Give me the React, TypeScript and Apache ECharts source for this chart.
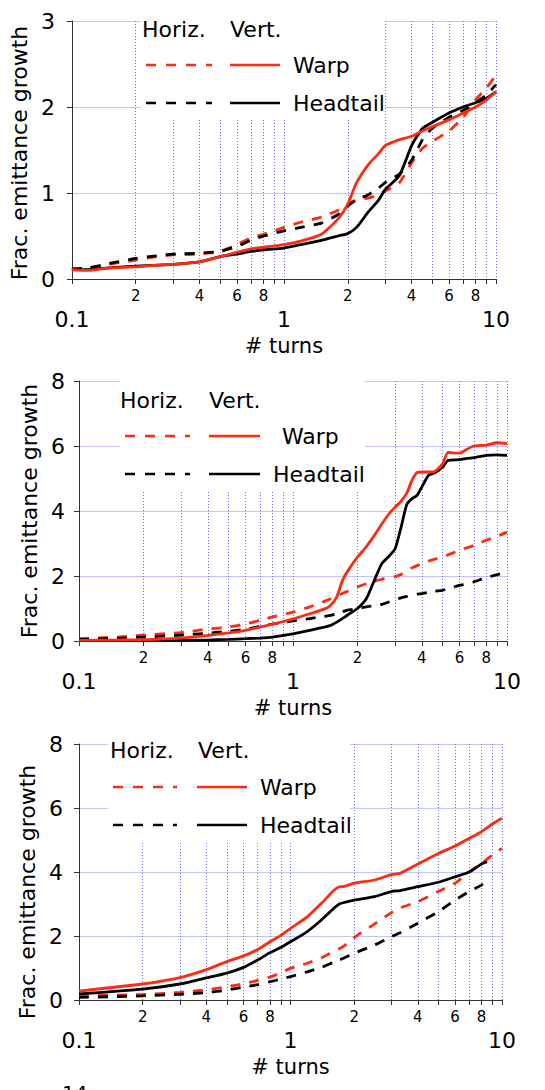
import React, { useEffect, useRef } from "react";
import * as echarts from "echarts";

const FONT = "DejaVu Sans";
const RED = "#ff2a0f";
const BLACK = "#000000";

// x-axis ticks / labels (log axis, # turns)
const xTickValues = [0.1, 0.2, 0.3, 0.4, 0.5, 0.6, 0.7, 0.8, 0.9, 1, 2, 3, 4, 5, 6, 7, 8, 9, 10];
const xLabelValues = [0.1, 0.2, 0.4, 0.6, 0.8, 1, 2, 4, 6, 8, 10];
const xLabelTexts = ["0.1", "2", "4", "6", "8", "1", "2", "4", "6", "8", "10"];
const xLabelMajor = [true, false, false, false, false, true, false, false, false, false, true];

// Panel 1
const p1X = [0.1, 0.12, 0.15, 0.2, 0.25, 0.3, 0.4, 0.5, 0.6, 0.7, 0.8, 1, 1.2, 1.5, 1.8, 2, 2.2, 2.5, 2.8, 3, 3.5, 4, 4.5, 5, 6, 7, 8, 9, 10];
const p1WarpV = [0.11, 0.1, 0.13, 0.14, 0.16, 0.17, 0.2, 0.26, 0.31, 0.35, 0.37, 0.4, 0.44, 0.52, 0.7, 0.87, 1.12, 1.33, 1.46, 1.55, 1.62, 1.66, 1.72, 1.77, 1.85, 1.93, 2.0, 2.08, 2.18];
const p1HeadV = [0.11, 0.11, 0.13, 0.15, 0.16, 0.17, 0.2, 0.26, 0.29, 0.32, 0.34, 0.36, 0.4, 0.45, 0.5, 0.53, 0.6, 0.78, 0.92, 1.04, 1.2, 1.55, 1.75, 1.82, 1.93, 2.0, 2.05, 2.1, 2.18];
const p1WarpH = [0.11, 0.12, 0.17, 0.22, 0.26, 0.28, 0.29, 0.32, 0.4, 0.48, 0.52, 0.6, 0.66, 0.72, 0.8, 0.87, 0.92, 0.94, 0.98, 1.02, 1.12, 1.35, 1.52, 1.6, 1.72, 1.88, 2.08, 2.22, 2.37];
const p1HeadH = [0.12, 0.13, 0.18, 0.24, 0.27, 0.29, 0.3, 0.32, 0.38, 0.45, 0.5, 0.56, 0.6, 0.65, 0.75, 0.85, 0.92, 0.98, 1.06, 1.12, 1.22, 1.38, 1.62, 1.75, 1.88, 1.96, 2.05, 2.14, 2.26];

// Panel 2
const p2X = [0.1, 0.15, 0.2, 0.3, 0.4, 0.5, 0.6, 0.7, 0.8, 1, 1.2, 1.4, 1.5, 1.6, 1.7, 1.8, 2, 2.2, 2.4, 2.6, 2.8, 3, 3.2, 3.4, 3.6, 3.8, 4, 4.3, 4.6, 5, 5.3, 6, 6.5, 7, 8, 9, 10];
const p2WarpV = [0.02, 0.03, 0.04, 0.09, 0.17, 0.25, 0.33, 0.43, 0.51, 0.68, 0.84, 0.98, 1.1, 1.35, 1.85, 2.15, 2.58, 2.9, 3.25, 3.6, 3.9, 4.12, 4.3, 4.55, 4.95, 5.18, 5.2, 5.2, 5.22, 5.45, 5.8, 5.78, 5.9, 6.0, 6.03, 6.1, 6.07];
const p2HeadV = [0.01, 0.01, 0.01, 0.02, 0.03, 0.05, 0.07, 0.09, 0.12, 0.22, 0.33, 0.43, 0.48, 0.58, 0.69, 0.8, 1.0, 1.3, 1.87, 2.38, 2.6, 2.84, 3.5, 4.2, 4.38, 4.48, 4.74, 5.1, 5.18, 5.35, 5.56, 5.58, 5.62, 5.64, 5.71, 5.73, 5.71];
const p2WarpH = [0.07, 0.12, 0.18, 0.26, 0.37, 0.43, 0.53, 0.63, 0.74, 0.89, 1.05, 1.22, 1.3, 1.38, 1.46, 1.53, 1.66, 1.76, 1.84, 1.9, 1.94, 1.98, 2.05, 2.15, 2.25, 2.32, 2.38, 2.46, 2.52, 2.58, 2.65, 2.79, 2.87, 2.94, 3.1, 3.22, 3.35];
const p2HeadH = [0.05, 0.08, 0.12, 0.18, 0.24, 0.3, 0.36, 0.45, 0.52, 0.62, 0.69, 0.76, 0.79, 0.84, 0.9, 0.95, 1.0, 1.05, 1.09, 1.13, 1.2, 1.28, 1.33, 1.37, 1.41, 1.44, 1.46, 1.5, 1.53, 1.56, 1.61, 1.71, 1.76, 1.82, 1.95, 2.04, 2.12];

// Panel 3
const p3X = [0.1, 0.2, 0.3, 0.4, 0.5, 0.6, 0.7, 0.8, 0.9, 1, 1.2, 1.4, 1.6, 1.7, 1.8, 2, 2.5, 3, 3.3, 4, 5, 6, 7, 8, 8.5, 9, 10];
const p3WarpV = [0.28, 0.5, 0.7, 0.95, 1.2, 1.38, 1.58, 1.82, 2.02, 2.24, 2.6, 3.02, 3.42, 3.54, 3.55, 3.65, 3.75, 3.92, 3.96, 4.25, 4.58, 4.81, 5.05, 5.26, 5.38, 5.5, 5.68];
const p3HeadV = [0.19, 0.34, 0.5, 0.69, 0.84, 1.02, 1.25, 1.48, 1.64, 1.82, 2.14, 2.5, 2.86, 3.0, 3.05, 3.12, 3.23, 3.39, 3.42, 3.54, 3.68, 3.85, 4.0, 4.25, 4.32, null, null];
const p3WarpH = [0.13, 0.17, 0.24, 0.32, 0.41, 0.51, 0.61, 0.72, 0.85, 0.99, 1.15, 1.32, 1.52, 1.6, 1.7, 1.95, 2.38, 2.73, 2.88, 3.07, 3.39, 3.65, 4.0, 4.27, 4.4, 4.53, 4.74];
const p3HeadH = [0.08, 0.13, 0.18, 0.23, 0.31, 0.4, 0.48, 0.57, 0.65, 0.73, 0.88, 1.02, 1.18, 1.25, 1.32, 1.46, 1.72, 1.98, 2.1, 2.4, 2.76, 3.12, 3.39, 3.59, 3.7, null, null];

const yMaxes = [3, 8, 8];
const yIntervals = [1, 2, 2];

const panels = [
  { x: p1X, warpV: p1WarpV, headV: p1HeadV, warpH: p1WarpH, headH: p1HeadH },
  { x: p2X, warpV: p2WarpV, headV: p2HeadV, warpH: p2WarpH, headH: p2HeadH },
  { x: p3X, warpV: p3WarpV, headV: p3HeadV, warpH: p3WarpH, headH: p3HeadH },
];

// layout (pixels)
const grids = [
  { left: 70, top: 21, width: 426, height: 258 },
  { left: 79, top: 381, width: 428, height: 260 },
  { left: 79, top: 744, width: 423, height: 256 },
];
const yNameGaps = [37, 37, 41];
const yNamePadding = [[0, 6, 0, 0], [0, 0, 0, 0], [0, 40, 0, 0]];
const yLabelMargins = [17, 14, 16];

const legends = [
  { box: [141, 20, 244, 100], horizX: 142, vertX: 230, headY: 29, dash: [146, 212], solid: [230, 280], warpX: 293, warpY: 65, headtailX: 293, headtailY: 103 },
  { box: [120, 380, 245, 111], horizX: 120, vertX: 209, headY: 400, dash: [125, 190], solid: [209, 260], warpX: 282, warpY: 436, headtailX: 273, headtailY: 474 },
  { box: [108, 743, 242, 99], horizX: 110, vertX: 198, headY: 750, dash: [113, 177], solid: [197, 247], warpX: 260, warpY: 787, headtailX: 260, headtailY: 825 },
];

function xLabelFormatter(value: number) {
  let best = 0;
  let bestD = Infinity;
  xLabelValues.forEach((v, k) => {
    const d = Math.abs(Math.log10(v) - Math.log10(value));
    if (d < bestD) {
      bestD = d;
      best = k;
    }
  });
  const t = xLabelTexts[best];
  return xLabelMajor[best] ? `{big|${t}}` : t;
}

function txt(text: string, x: number, y: number, size = 22) {
  return {
    type: "text",
    x,
    y,
    z: 20,
    silent: true,
    style: { text, fontFamily: FONT, fontSize: size, fill: "#000", align: "left", verticalAlign: "middle" },
  };
}
function seg(x1: number, x2: number, y: number, color: string, dashed: boolean) {
  return {
    type: "line",
    z: 20,
    silent: true,
    shape: { x1, y1: y, x2, y2: y },
    style: { stroke: color, lineWidth: 2.5, lineDash: dashed ? [10, 10] : null },
  };
}

export default function App() {
  const ref = useRef<HTMLDivElement>(null);
  useEffect(() => {
    if (!ref.current) return;
    const chart = echarts.init(ref.current, null, { renderer: "svg" });

    const xAxis = grids.map((_, i) => ({
      type: "log",
      logBase: 10,
      gridIndex: i,
      min: 0.1,
      max: 10,
      name: "# turns",
      nameLocation: "middle",
      nameGap: 56,
      nameTextStyle: { fontFamily: FONT, fontSize: 21, color: "#000" },
      axisLine: { show: true, onZero: false, lineStyle: { color: "#333", width: 1 } },
      axisTick: { show: true, inside: false, length: 5, customValues: xTickValues, lineStyle: { color: "#333" } },
      minorTick: { show: false },
      axisLabel: {
        customValues: xLabelValues,
        formatter: xLabelFormatter,
        fontFamily: FONT,
        fontSize: 15,
        color: "#000",
        margin: 9,
        rich: { big: { fontFamily: FONT, fontSize: 22, color: "#000", padding: [20, 0, 0, 0] } },
      },
      splitLine: { show: true, lineStyle: { color: "#6f6fff", type: [1, 2], width: 1 } },
    }));

    const yAxis = grids.map((_, i) => ({
      type: "value",
      gridIndex: i,
      min: 0,
      max: yMaxes[i],
      interval: yIntervals[i],
      name: "Frac. emittance growth",
      nameLocation: "middle",
      nameGap: yNameGaps[i],
      nameTextStyle: { fontFamily: FONT, fontSize: 22, color: "#000", padding: yNamePadding[i] },
      axisLine: { show: true, lineStyle: { color: "#333", width: 1 } },
      axisTick: { show: true, length: 5, lineStyle: { color: "#333" } },
      axisLabel: { fontFamily: FONT, fontSize: 22, color: "#000", margin: yLabelMargins[i] },
      splitLine: { show: true, lineStyle: { color: "#bfc6ff", width: 1 } },
    }));

    const series: any[] = [];
    panels.forEach((p, i) => {
      const defs = [
        { name: "Warp Horiz.", ys: p.warpH, color: RED, dashed: true },
        { name: "Headtail Horiz.", ys: p.headH, color: BLACK, dashed: true },
        { name: "Headtail Vert.", ys: p.headV, color: BLACK, dashed: false },
        { name: "Warp Vert.", ys: p.warpV, color: RED, dashed: false },
      ];
      defs.forEach((d) => {
        series.push({
          type: "line",
          name: d.name,
          xAxisIndex: i,
          yAxisIndex: i,
          data: p.x.map((x, k) => [x, d.ys[k]]),
          showSymbol: false,
          symbol: "none",
          smooth: 0.2,
          connectNulls: false,
          z: 3,
          lineStyle: { color: d.color, width: 2.8, type: d.dashed ? [10, 9] : "solid" },
        });
      });
    });

    const graphic: any[] = [];
    legends.forEach((L) => {
      graphic.push({
        type: "rect",
        z: 10,
        silent: true,
        shape: { x: L.box[0], y: L.box[1], width: L.box[2], height: L.box[3] },
        style: { fill: "#ffffff" },
      });
      graphic.push(txt("Horiz.", L.horizX, L.headY));
      graphic.push(txt("Vert.", L.vertX, L.headY));
      graphic.push(seg(L.dash[0], L.dash[1], L.warpY, RED, true));
      graphic.push(seg(L.solid[0], L.solid[1], L.warpY, RED, false));
      graphic.push(txt("Warp", L.warpX, L.warpY));
      graphic.push(seg(L.dash[0], L.dash[1], L.headtailY, BLACK, true));
      graphic.push(seg(L.solid[0], L.solid[1], L.headtailY, BLACK, false));
      graphic.push(txt("Headtail", L.headtailX, L.headtailY));
    });
    graphic.push({
      type: "text",
      x: 62,
      y: 1083,
      z: 20,
      silent: true,
      style: { text: "14", fontFamily: FONT, fontSize: 20, fill: "#000", verticalAlign: "top" },
    });

    chart.setOption({
      animation: false,
      backgroundColor: "#ffffff",
      grid: grids,
      xAxis,
      yAxis,
      series,
      graphic,
    });
    return () => chart.dispose();
  }, []);

  return (
    <div
      ref={ref}
      style={{ position: "fixed", left: 0, top: 0, width: 545, height: 1090, background: "#fff" }}
    />
  );
}
